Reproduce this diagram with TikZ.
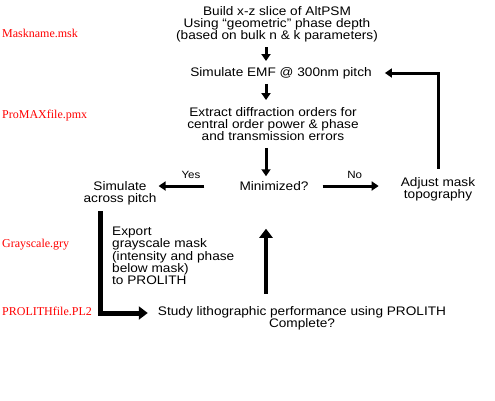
\documentclass[tikz,border=0pt]{standalone}
\usepackage{fontspec}
\setmainfont{Liberation Sans}
\newfontfamily\stepfont[FakeStretch=1.1]{Liberation Sans}
\newfontfamily\filefont{Liberation Serif}
\usetikzlibrary{arrows.meta}

\begin{document}
\begin{tikzpicture}[x=1pt,y=-1pt,
  step node/.style={font=\stepfont\fontsize{12.4}{12.2}\selectfont,align=center,inner sep=0pt},
  file node/.style={anchor=west,text=red,font=\filefont\fontsize{12}{14}\selectfont,inner sep=0pt},
  answer/.style={font=\stepfont\fontsize{10.5}{12}\selectfont,inner sep=0pt},
  flow/.style={line width=3pt,-{Triangle[length=7pt,width=9pt]}},
  bigflow/.style={line width=5pt,-{Triangle[length=9pt,width=13pt]}}]
  \useasboundingbox (0,0) rectangle (495,400);
  \coordinate (axis) at (266,0);

  \node[step node] (build) at (277,24) {Build x-z slice of AltPSM\\Using “geometric” phase depth\\(based on bulk n \& k parameters)};
  \node[step node] (emf) at (281,73) {Simulate EMF @ 300nm pitch};
  \node[step node] (extract) at (273,124) {Extract diffraction orders for\\central order power \& phase\\and transmission errors};
  \node[step node] (minim) at (274,186) {Minimized?};
  \node[step node] (adjust) at (438,189) {Adjust mask\\topography};
  \node[step node] (across) at (120,193) {Simulate\\across pitch};
  \node[step node,align=left,anchor=north west] (export) at (112,227) {Export\\grayscale mask\\(intensity and phase\\below mask)\\to PROLITH};
  \node[step node] (study) at (302,318) {Study lithographic performance using PROLITH\\Complete?};

  \node[file node] (msk) at (2,33) {Maskname.msk};
  \node[file node] (pmx) at (2,116) {ProMAXfile.pmx};
  \node[file node] (gry) at (2,245) {Grayscale.gry};
  \node[file node] (pl2) at (2,311) {PROLITHfile.PL2};

  \draw[flow,shorten <=5pt,shorten >=6pt] (build.south -| axis) -- (emf.north -| axis);
  \draw[flow,shorten <=5pt,shorten >=7pt] (emf.south -| axis) -- (extract.north -| axis);
  \draw[flow,shorten <=7pt,shorten >=5pt] (extract.south -| axis) -- (minim.north -| axis);
  \draw[flow,shorten <=35pt,shorten >=2pt] (minim.west) -- (across.east |- minim.west)
    node[answer,midway,above=6pt,xshift=-7pt] {Yes};
  \draw[flow,shorten <=14pt,shorten >=22pt] (minim.east) -- (adjust.west |- minim.east)
    node[answer,midway,above=6pt] {No};
  \draw[flow,shorten <=8pt,shorten >=13pt] (adjust.north) |- (emf.east);
  \draw[bigflow,shorten <=6pt,shorten >=10pt] ([xshift=-20pt]across.south) |- ([yshift=5pt]study.west);
  \draw[bigflow,line width=4pt,shorten <=12pt,shorten >=38pt] (study.north -| axis) -- (minim.south -| axis);
\end{tikzpicture}
\end{document}
